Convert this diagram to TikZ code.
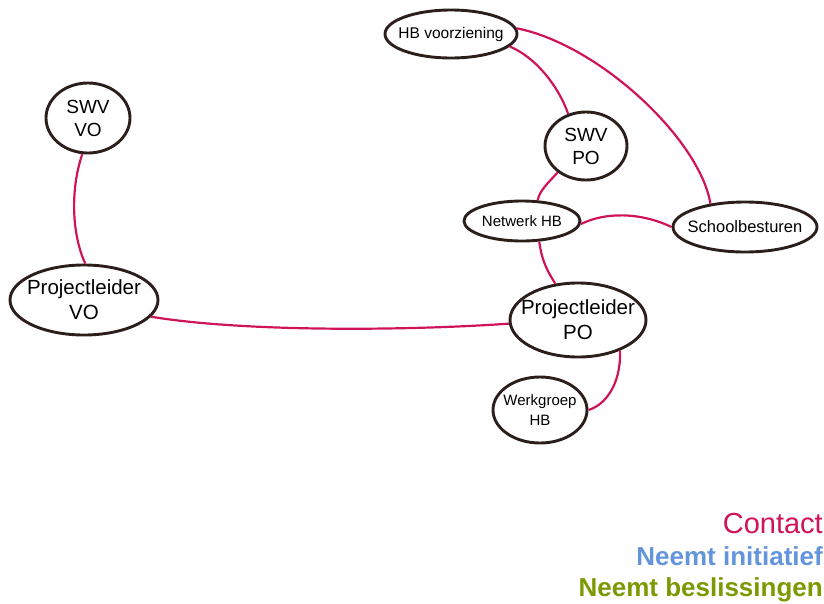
\documentclass[tikz,border=0pt]{standalone}
\usepackage{fontspec}
\setmainfont{Liberation Sans}
\usetikzlibrary{shapes.geometric}
\definecolor{edgec}{HTML}{D0145A}
\definecolor{borderc}{HTML}{2B1E1B}
\definecolor{bluec}{HTML}{6495DC}
\definecolor{greenc}{HTML}{7A9A01}
\tikzset{
  ell/.style={ellipse, draw=borderc, line width=2.9pt, inner sep=-12pt, align=center, text=black, fill=white},
  link/.style={draw=edgec, line width=2.2pt},
  legend/.style={anchor=base east, inner sep=0pt}
}
\begin{document}
\begin{tikzpicture}[x=1pt,y=-1pt]
\useasboundingbox (0,0) rectangle (824,603);
\node[ell, minimum width=84pt, minimum height=70pt, font=\fontsize{19}{23}\selectfont] (swvvo) at (88,118) {SWV\\VO};
\node[ell, minimum width=148pt, minimum height=70pt, font=\fontsize{20.5}{25}\selectfont] (pvo) at (84,300) {Projectleider\\VO};
\node[ell, minimum width=132pt, minimum height=48pt, font=\fontsize{15.5}{17}\selectfont] (hbv) at (451,34) {HB voorziening};
\node[ell, minimum width=82pt, minimum height=68pt, font=\fontsize{19}{23}\selectfont] (swvpo) at (586,146) {SWV\\PO};
\node[ell, minimum width=116pt, minimum height=40pt, font=\fontsize{15}{17}\selectfont] (nhb) at (522,221) {Netwerk HB};
\node[ell, minimum width=144pt, minimum height=50pt, font=\fontsize{16.5}{18}\selectfont] (scho) at (745,227) {Schoolbesturen};
\node[ell, minimum width=136pt, minimum height=74pt, font=\fontsize{20.5}{25}\selectfont] (ppo) at (578,320) {Projectleider\\PO};
\node[ell, minimum width=94pt, minimum height=66pt, font=\fontsize{15}{20}\selectfont] (wg) at (540,410) {Werkgroep\\HB};

\path[link] (swvvo.-99) .. controls (70,190) and (72,235) .. (pvo.88);
\path[link] (pvo.-14) .. controls (250,333) and (420,330) .. (ppo.183);
\path[link] (hbv.5) .. controls (600,45) and (700,140) .. (scho.146);
\path[link] (hbv.-12) .. controls (535,57) and (558,85) .. (swvpo.119);
\path[link] (swvpo.-137) .. controls (548,183) and (540,190) .. (nhb.53);
\path[link] (nhb.-3) .. controls (605,212) and (640,212) .. (scho.180);
\path[link] (nhb.-50) .. controls (542,262) and (548,272) .. (ppo.122);
\path[link] (ppo.-36) .. controls (621,385) and (605,405) .. (wg.east);

\node[legend, text=edgec, font=\fontsize{29}{32}\selectfont] (l1) at (823,533) {Contact};
\node[legend, text=bluec, font=\bfseries\fontsize{26}{30}\selectfont] (l2) at (823,565) {Neemt initiatief};
\node[legend, text=greenc, font=\bfseries\fontsize{26}{30}\selectfont] (l3) at (823,596) {Neemt beslissingen};
\end{tikzpicture}
\end{document}
